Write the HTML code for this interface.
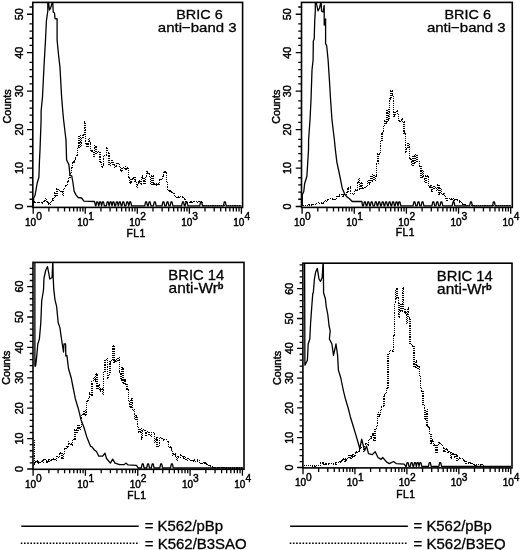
<!DOCTYPE html>
<html><head><meta charset="utf-8"><style>
html,body{margin:0;padding:0;background:#fff;}
svg{display:block;filter:grayscale(1) blur(0.3px);}
text{font-family:"Liberation Sans", sans-serif;fill:#000;stroke:#000;stroke-width:0.3px;}
.s{stroke-width:0.45px;}
</style></head><body>
<svg width="520" height="550" viewBox="0 0 520 550">
<rect x="32.80" y="2.40" width="209.80" height="205.00" fill="none" stroke="#000" stroke-width="1.6"/>
<path d="M33.20 207.40V213.80 M48.87 207.40V211.40 M58.03 207.40V211.40 M64.54 207.40V211.40 M69.58 207.40V211.40 M73.70 207.40V211.40 M77.19 207.40V211.40 M80.21 207.40V211.40 M82.87 207.40V211.40 M85.25 207.40V213.80 M100.92 207.40V211.40 M110.08 207.40V211.40 M116.59 207.40V211.40 M121.63 207.40V211.40 M125.75 207.40V211.40 M129.24 207.40V211.40 M132.26 207.40V211.40 M134.92 207.40V211.40 M137.30 207.40V213.80 M152.97 207.40V211.40 M162.13 207.40V211.40 M168.64 207.40V211.40 M173.68 207.40V211.40 M177.80 207.40V211.40 M181.29 207.40V211.40 M184.31 207.40V211.40 M186.97 207.40V211.40 M189.35 207.40V213.80 M205.02 207.40V211.40 M214.18 207.40V211.40 M220.69 207.40V211.40 M225.73 207.40V211.40 M229.85 207.40V211.40 M233.34 207.40V211.40 M236.36 207.40V211.40 M239.02 207.40V211.40 M241.40 207.40V213.80 M32.80 206.50H27.00 M32.80 177.75H29.50 M32.80 184.95H29.50 M32.80 192.05H29.50 M32.80 199.25H29.50 M32.80 168.05H27.00 M32.80 139.30H29.50 M32.80 146.50H29.50 M32.80 153.60H29.50 M32.80 160.80H29.50 M32.80 129.60H27.00 M32.80 100.85H29.50 M32.80 108.05H29.50 M32.80 115.15H29.50 M32.80 122.35H29.50 M32.80 91.15H27.00 M32.80 62.40H29.50 M32.80 69.60H29.50 M32.80 76.70H29.50 M32.80 83.90H29.50 M32.80 52.70H27.00 M32.80 23.95H29.50 M32.80 31.15H29.50 M32.80 38.25H29.50 M32.80 45.45H29.50 M32.80 14.25H27.00 M32.80 7.00H29.50" stroke="#000" stroke-width="1.3" fill="none"/>
<text x="36.20" y="225.60" text-anchor="end" font-size="10" class="s">10</text>
<text x="36.20" y="220.00" font-size="10.2" class="s">0</text>
<text x="88.25" y="225.60" text-anchor="end" font-size="10" class="s">10</text>
<text x="88.25" y="220.00" font-size="10.2" class="s">1</text>
<text x="140.30" y="225.60" text-anchor="end" font-size="10" class="s">10</text>
<text x="140.30" y="220.00" font-size="10.2" class="s">2</text>
<text x="192.35" y="225.60" text-anchor="end" font-size="10" class="s">10</text>
<text x="192.35" y="220.00" font-size="10.2" class="s">3</text>
<text x="244.40" y="225.60" text-anchor="end" font-size="10" class="s">10</text>
<text x="244.40" y="220.00" font-size="10.2" class="s">4</text>
<text transform="translate(22.60,206.50) rotate(-90)" text-anchor="middle" font-size="10.8" class="s">0</text>
<text transform="translate(22.60,168.05) rotate(-90)" text-anchor="middle" font-size="10.8" class="s">10</text>
<text transform="translate(22.60,129.60) rotate(-90)" text-anchor="middle" font-size="10.8" class="s">20</text>
<text transform="translate(22.60,91.15) rotate(-90)" text-anchor="middle" font-size="10.8" class="s">30</text>
<text transform="translate(22.60,52.70) rotate(-90)" text-anchor="middle" font-size="10.8" class="s">40</text>
<text transform="translate(22.60,14.25) rotate(-90)" text-anchor="middle" font-size="10.8" class="s">50</text>
<rect x="301.50" y="2.40" width="210.80" height="205.00" fill="none" stroke="#000" stroke-width="1.6"/>
<path d="M302.10 207.40V213.80 M317.80 207.40V211.40 M326.98 207.40V211.40 M333.50 207.40V211.40 M338.55 207.40V211.40 M342.68 207.40V211.40 M346.17 207.40V211.40 M349.20 207.40V211.40 M351.86 207.40V211.40 M354.25 207.40V213.80 M369.95 207.40V211.40 M379.13 207.40V211.40 M385.65 207.40V211.40 M390.70 207.40V211.40 M394.83 207.40V211.40 M398.32 207.40V211.40 M401.35 207.40V211.40 M404.01 207.40V211.40 M406.40 207.40V213.80 M422.10 207.40V211.40 M431.28 207.40V211.40 M437.80 207.40V211.40 M442.85 207.40V211.40 M446.98 207.40V211.40 M450.47 207.40V211.40 M453.50 207.40V211.40 M456.16 207.40V211.40 M458.55 207.40V213.80 M474.25 207.40V211.40 M483.43 207.40V211.40 M489.95 207.40V211.40 M495.00 207.40V211.40 M499.13 207.40V211.40 M502.62 207.40V211.40 M505.65 207.40V211.40 M508.31 207.40V211.40 M510.70 207.40V213.80 M301.50 206.50H295.70 M301.50 177.75H298.20 M301.50 184.95H298.20 M301.50 192.05H298.20 M301.50 199.25H298.20 M301.50 168.05H295.70 M301.50 139.30H298.20 M301.50 146.50H298.20 M301.50 153.60H298.20 M301.50 160.80H298.20 M301.50 129.60H295.70 M301.50 100.85H298.20 M301.50 108.05H298.20 M301.50 115.15H298.20 M301.50 122.35H298.20 M301.50 91.15H295.70 M301.50 62.40H298.20 M301.50 69.60H298.20 M301.50 76.70H298.20 M301.50 83.90H298.20 M301.50 52.70H295.70 M301.50 23.95H298.20 M301.50 31.15H298.20 M301.50 38.25H298.20 M301.50 45.45H298.20 M301.50 14.25H295.70 M301.50 7.00H298.20" stroke="#000" stroke-width="1.3" fill="none"/>
<text x="305.10" y="225.60" text-anchor="end" font-size="10" class="s">10</text>
<text x="305.10" y="220.00" font-size="10.2" class="s">0</text>
<text x="357.25" y="225.60" text-anchor="end" font-size="10" class="s">10</text>
<text x="357.25" y="220.00" font-size="10.2" class="s">1</text>
<text x="409.40" y="225.60" text-anchor="end" font-size="10" class="s">10</text>
<text x="409.40" y="220.00" font-size="10.2" class="s">2</text>
<text x="461.55" y="225.60" text-anchor="end" font-size="10" class="s">10</text>
<text x="461.55" y="220.00" font-size="10.2" class="s">3</text>
<text x="513.70" y="225.60" text-anchor="end" font-size="10" class="s">10</text>
<text x="513.70" y="220.00" font-size="10.2" class="s">4</text>
<text transform="translate(291.30,206.50) rotate(-90)" text-anchor="middle" font-size="10.8" class="s">0</text>
<text transform="translate(291.30,168.05) rotate(-90)" text-anchor="middle" font-size="10.8" class="s">10</text>
<text transform="translate(291.30,129.60) rotate(-90)" text-anchor="middle" font-size="10.8" class="s">20</text>
<text transform="translate(291.30,91.15) rotate(-90)" text-anchor="middle" font-size="10.8" class="s">30</text>
<text transform="translate(291.30,52.70) rotate(-90)" text-anchor="middle" font-size="10.8" class="s">40</text>
<text transform="translate(291.30,14.25) rotate(-90)" text-anchor="middle" font-size="10.8" class="s">50</text>
<rect x="33.00" y="262.40" width="211.00" height="206.90" fill="none" stroke="#000" stroke-width="1.6"/>
<path d="M33.10 469.30V475.70 M48.85 469.30V473.30 M58.07 469.30V473.30 M64.61 469.30V473.30 M69.68 469.30V473.30 M73.82 469.30V473.30 M77.32 469.30V473.30 M80.36 469.30V473.30 M83.04 469.30V473.30 M85.43 469.30V475.70 M101.18 469.30V473.30 M110.40 469.30V473.30 M116.94 469.30V473.30 M122.01 469.30V473.30 M126.15 469.30V473.30 M129.65 469.30V473.30 M132.69 469.30V473.30 M135.37 469.30V473.30 M137.76 469.30V475.70 M153.51 469.30V473.30 M162.73 469.30V473.30 M169.27 469.30V473.30 M174.34 469.30V473.30 M178.48 469.30V473.30 M181.98 469.30V473.30 M185.02 469.30V473.30 M187.70 469.30V473.30 M190.09 469.30V475.70 M205.84 469.30V473.30 M215.06 469.30V473.30 M221.60 469.30V473.30 M226.67 469.30V473.30 M230.81 469.30V473.30 M234.31 469.30V473.30 M237.35 469.30V473.30 M240.03 469.30V473.30 M242.42 469.30V475.70 M33.00 469.00H27.20 M33.00 444.68H29.70 M33.00 450.76H29.70 M33.00 456.84H29.70 M33.00 462.92H29.70 M33.00 438.60H27.20 M33.00 414.28H29.70 M33.00 420.36H29.70 M33.00 426.44H29.70 M33.00 432.52H29.70 M33.00 408.20H27.20 M33.00 383.88H29.70 M33.00 389.96H29.70 M33.00 396.04H29.70 M33.00 402.12H29.70 M33.00 377.80H27.20 M33.00 353.48H29.70 M33.00 359.56H29.70 M33.00 365.64H29.70 M33.00 371.72H29.70 M33.00 347.40H27.20 M33.00 323.08H29.70 M33.00 329.16H29.70 M33.00 335.24H29.70 M33.00 341.32H29.70 M33.00 317.00H27.20 M33.00 292.68H29.70 M33.00 298.76H29.70 M33.00 304.84H29.70 M33.00 310.92H29.70 M33.00 286.60H27.20 M33.00 268.36H29.70 M33.00 274.44H29.70 M33.00 280.52H29.70" stroke="#000" stroke-width="1.3" fill="none"/>
<text x="36.10" y="487.50" text-anchor="end" font-size="10" class="s">10</text>
<text x="36.10" y="481.90" font-size="10.2" class="s">0</text>
<text x="88.43" y="487.50" text-anchor="end" font-size="10" class="s">10</text>
<text x="88.43" y="481.90" font-size="10.2" class="s">1</text>
<text x="140.76" y="487.50" text-anchor="end" font-size="10" class="s">10</text>
<text x="140.76" y="481.90" font-size="10.2" class="s">2</text>
<text x="193.09" y="487.50" text-anchor="end" font-size="10" class="s">10</text>
<text x="193.09" y="481.90" font-size="10.2" class="s">3</text>
<text x="245.42" y="487.50" text-anchor="end" font-size="10" class="s">10</text>
<text x="245.42" y="481.90" font-size="10.2" class="s">4</text>
<text transform="translate(22.80,469.00) rotate(-90)" text-anchor="middle" font-size="10.8" class="s">0</text>
<text transform="translate(22.80,438.60) rotate(-90)" text-anchor="middle" font-size="10.8" class="s">10</text>
<text transform="translate(22.80,408.20) rotate(-90)" text-anchor="middle" font-size="10.8" class="s">20</text>
<text transform="translate(22.80,377.80) rotate(-90)" text-anchor="middle" font-size="10.8" class="s">30</text>
<text transform="translate(22.80,347.40) rotate(-90)" text-anchor="middle" font-size="10.8" class="s">40</text>
<text transform="translate(22.80,317.00) rotate(-90)" text-anchor="middle" font-size="10.8" class="s">50</text>
<text transform="translate(22.80,286.60) rotate(-90)" text-anchor="middle" font-size="10.8" class="s">60</text>
<rect x="302.90" y="263.20" width="209.10" height="204.70" fill="none" stroke="#000" stroke-width="1.6"/>
<path d="M303.00 467.90V474.30 M318.64 467.90V471.90 M327.79 467.90V471.90 M334.28 467.90V471.90 M339.31 467.90V471.90 M343.42 467.90V471.90 M346.90 467.90V471.90 M349.92 467.90V471.90 M352.57 467.90V471.90 M354.95 467.90V474.30 M370.59 467.90V471.90 M379.74 467.90V471.90 M386.23 467.90V471.90 M391.26 467.90V471.90 M395.37 467.90V471.90 M398.85 467.90V471.90 M401.87 467.90V471.90 M404.52 467.90V471.90 M406.90 467.90V474.30 M422.54 467.90V471.90 M431.69 467.90V471.90 M438.18 467.90V471.90 M443.21 467.90V471.90 M447.32 467.90V471.90 M450.80 467.90V471.90 M453.82 467.90V471.90 M456.47 467.90V471.90 M458.85 467.90V474.30 M474.49 467.90V471.90 M483.64 467.90V471.90 M490.13 467.90V471.90 M495.16 467.90V471.90 M499.27 467.90V471.90 M502.75 467.90V471.90 M505.77 467.90V471.90 M508.42 467.90V471.90 M510.80 467.90V474.30 M302.90 467.50H297.10 M302.90 443.66H299.60 M302.90 449.62H299.60 M302.90 455.58H299.60 M302.90 461.54H299.60 M302.90 437.70H297.10 M302.90 413.86H299.60 M302.90 419.82H299.60 M302.90 425.78H299.60 M302.90 431.74H299.60 M302.90 407.90H297.10 M302.90 384.06H299.60 M302.90 390.02H299.60 M302.90 395.98H299.60 M302.90 401.94H299.60 M302.90 378.10H297.10 M302.90 354.26H299.60 M302.90 360.22H299.60 M302.90 366.18H299.60 M302.90 372.14H299.60 M302.90 348.30H297.10 M302.90 324.46H299.60 M302.90 330.42H299.60 M302.90 336.38H299.60 M302.90 342.34H299.60 M302.90 318.50H297.10 M302.90 294.66H299.60 M302.90 300.62H299.60 M302.90 306.58H299.60 M302.90 312.54H299.60 M302.90 288.70H297.10 M302.90 264.86H299.60 M302.90 270.82H299.60 M302.90 276.78H299.60 M302.90 282.74H299.60" stroke="#000" stroke-width="1.3" fill="none"/>
<text x="306.00" y="486.10" text-anchor="end" font-size="10" class="s">10</text>
<text x="306.00" y="480.50" font-size="10.2" class="s">0</text>
<text x="357.95" y="486.10" text-anchor="end" font-size="10" class="s">10</text>
<text x="357.95" y="480.50" font-size="10.2" class="s">1</text>
<text x="409.90" y="486.10" text-anchor="end" font-size="10" class="s">10</text>
<text x="409.90" y="480.50" font-size="10.2" class="s">2</text>
<text x="461.85" y="486.10" text-anchor="end" font-size="10" class="s">10</text>
<text x="461.85" y="480.50" font-size="10.2" class="s">3</text>
<text x="513.80" y="486.10" text-anchor="end" font-size="10" class="s">10</text>
<text x="513.80" y="480.50" font-size="10.2" class="s">4</text>
<text transform="translate(292.70,467.50) rotate(-90)" text-anchor="middle" font-size="10.8" class="s">0</text>
<text transform="translate(292.70,437.70) rotate(-90)" text-anchor="middle" font-size="10.8" class="s">10</text>
<text transform="translate(292.70,407.90) rotate(-90)" text-anchor="middle" font-size="10.8" class="s">20</text>
<text transform="translate(292.70,378.10) rotate(-90)" text-anchor="middle" font-size="10.8" class="s">30</text>
<text transform="translate(292.70,348.30) rotate(-90)" text-anchor="middle" font-size="10.8" class="s">40</text>
<text transform="translate(292.70,318.50) rotate(-90)" text-anchor="middle" font-size="10.8" class="s">50</text>
<text transform="translate(292.70,288.70) rotate(-90)" text-anchor="middle" font-size="10.8" class="s">60</text>
<path d="M33.20 206.50 L33.70 198.00 L34.90 195.80 L36.00 190.00 L37.20 183.00 L38.90 177.30 L39.50 160.00 L40.00 150.00 L41.10 120.00 L41.10 111.30 L42.50 96.70 L44.00 66.20 L45.50 40.00 L46.40 21.00 L47.80 11.00 L47.80 2.80 L48.60 2.80 L49.50 10.00 L50.60 8.00 L52.20 2.80 L52.80 2.80 L53.20 12.00 L54.50 13.00 L55.00 18.50 L57.10 19.00 L57.10 40.00 L58.50 54.50 L60.00 67.60 L61.50 95.30 L62.90 112.70 L63.60 120.00 L66.00 140.00 L66.60 160.00 L68.90 164.60 L70.00 175.00 L71.80 176.10 L73.00 183.00 L74.10 191.10 L75.80 194.60 L78.10 197.50 L81.60 198.00 L83.90 201.20 L94.50 201.50 L95.50 205.60 L95.60 205.80 L95.90 205.80 L96.80 201.80 L97.80 201.80 L98.70 205.80 L98.80 205.80 L99.70 201.80 L100.70 201.80 L101.60 205.80 L101.60 205.80 L102.50 201.80 L103.50 201.80 L104.40 205.80 L106.30 205.80 L107.20 201.80 L108.20 201.80 L109.10 205.80 L109.20 205.80 L110.10 201.80 L111.10 201.80 L112.00 205.80 L112.00 205.80 L112.90 201.80 L113.90 201.80 L114.80 205.80 L115.50 205.80 L116.40 201.80 L117.40 201.80 L118.30 205.80 L118.40 205.80 L119.30 201.80 L120.30 201.80 L121.20 205.80 L121.90 205.80 L122.80 201.80 L123.80 201.80 L124.70 205.80 L125.90 205.80 L126.80 201.80 L127.80 201.80 L128.70 205.80 L128.80 205.80 L129.70 201.80 L130.70 201.80 L131.60 205.80 L144.70 205.80 L145.60 201.80 L146.60 201.80 L147.50 205.80 L148.20 205.80 L149.10 201.80 L150.10 201.80 L151.00 205.80 L153.40 205.80 L154.30 201.80 L155.30 201.80 L156.20 205.80 L162.00 205.80 L162.90 201.80 L163.90 201.80 L164.80 205.80 L166.10 205.80 L167.00 201.80 L168.00 201.80 L168.90 205.80 L170.10 205.80 L171.00 201.80 L172.00 201.80 L172.90 205.80 L181.60 205.80 L182.50 201.80 L183.50 201.80 L184.40 205.80 L185.10 205.80 L186.00 201.80 L187.00 201.80 L187.90 205.80 L199.70 205.80 L200.60 201.80 L201.60 201.80 L202.50 205.80 L223.40 205.80 L224.30 201.80 L225.30 201.80 L226.20 205.80 L241.50 205.80" fill="none" stroke="#000" stroke-width="1.3" stroke-linejoin="round"/>
<path d="M33.60 202.10V202.14H34.90V202.82H36.20V202.71H37.50V202.21H38.80V202.41H40.10V202.36H41.40V202.90H42.70V202.69H44.00V200.19H45.30V198.60H46.60V201.39H47.90V203.86H49.20V204.57H50.50V202.32H51.80V200.12H53.10V198.22H54.40V193.06H55.70V196.28H57.00V188.80H58.30V189.23H59.60V190.23H60.90V191.99H62.20V195.46H63.50V189.17H64.80V186.78H66.10V185.20H67.40V181.53H68.70V177.34H70.00V172.71H71.30V168.14H72.60V161.98H73.90V160.32H75.20V157.22H76.50V155.02H77.80V147.12H79.10V135.50H80.40V146.33H81.70V138.63H83.00V134.19H84.30V122.00H85.60V144.10H86.90V146.75H88.20V138.75H89.50V142.26H90.80V150.23H92.10V151.13H93.40V156.18H94.70V145.96H96.00V153.69H97.30V151.80H98.60V152.71H99.90V162.70H101.20V166.96H102.50V165.06H103.80V156.67H105.10V155.56H106.40V148.00H107.70V152.32H109.00V165.70H110.30V163.27H111.60V160.81H112.90V165.12H114.20V167.61H115.50V167.12H116.80V163.30H118.10V164.93H119.40V166.69H120.70V171.78H122.00V168.50H123.30V167.29H124.60V168.90H125.90V166.54H127.20V168.75H128.50V177.43H129.80V183.79H131.10V179.38H132.40V178.02H133.70V177.19H135.00V181.05H136.30V187.54H137.60V183.78H138.90V180.26H140.20V184.29H141.50V176.02H142.80V178.00H144.10V183.80H145.40V177.30H146.70V172.00H148.00V173.73H149.30V177.70H150.60V184.81H151.90V175.53H153.20V183.85H154.50V184.76H155.80V185.78H157.10V183.59H158.40V184.59H159.70V179.71H161.00V179.21H162.30V176.62H163.60V172.78H164.90V172.00H166.20V182.76H167.50V189.18H168.80V191.11H170.10V191.77H171.40V192.21H172.70V193.48H174.00V195.36H175.30V196.65H176.60V197.24H177.90V196.97H179.20V196.39H180.50V196.58H181.80V196.33H183.10V197.47H184.40V199.14H185.70V201.41H187.00V202.45H188.30V202.48H189.60V201.82H190.90V202.51H192.20V202.27H193.50V201.72H194.80V201.70H196.10V201.70H197.40V202.39H198.70V201.82H200.00V201.73H201.30V202.69H202.60V204.78H203.90V205.50H205.20V205.50H206.50V205.50H207.80V205.50H209.10V205.50H210.40V205.50H211.70V205.50H213.00V205.50H214.30V205.50H215.60V205.50H216.90V205.50H218.20V205.50H219.50V205.50H220.80V205.50H222.10V205.50H223.40V205.50H224.70V205.50H226.00V205.50H227.30V205.50H228.60V205.50H229.90V205.50H231.20V205.50H232.50V205.50H233.80V205.50H235.10V205.50H236.40V205.50H237.70V205.50H239.00V205.50H240.30V205.50H241.00" fill="none" stroke="#000" stroke-width="1.3" stroke-dasharray="1.2 1" shape-rendering="crispEdges"/>
<path d="M302.30 205.50 L302.30 194.60 L303.80 191.50 L304.60 183.80 L306.90 176.20 L308.50 150.00 L308.60 140.00 L310.00 120.00 L311.00 100.00 L312.00 70.00 L313.10 60.00 L313.30 41.00 L314.20 39.30 L314.70 21.30 L315.30 10.90 L315.30 2.80 L316.30 2.80 L318.00 10.90 L319.50 8.00 L320.70 2.80 L321.20 2.80 L321.50 11.00 L323.00 12.00 L324.20 5.50 L324.20 25.00 L325.60 19.00 L325.60 43.60 L326.70 45.80 L328.10 60.00 L329.40 80.00 L330.60 100.00 L332.00 120.00 L334.40 140.00 L335.40 150.00 L336.90 162.30 L339.20 173.00 L340.80 180.80 L342.30 188.50 L344.60 193.80 L346.90 196.90 L349.20 198.50 L352.30 201.50 L361.90 201.50 L362.50 205.60 L362.60 205.80 L363.40 205.80 L364.30 201.80 L365.30 201.80 L366.20 205.80 L366.90 205.80 L367.80 201.80 L368.80 201.80 L369.70 205.80 L370.30 205.80 L371.20 201.80 L372.20 201.80 L373.10 205.80 L374.40 205.80 L375.30 201.80 L376.30 201.80 L377.20 205.80 L377.80 205.80 L378.70 201.80 L379.70 201.80 L380.60 205.80 L381.30 205.80 L382.20 201.80 L383.20 201.80 L384.10 205.80 L384.70 205.80 L385.60 201.80 L386.60 201.80 L387.50 205.80 L388.20 205.80 L389.10 201.80 L390.10 201.80 L391.00 205.80 L391.70 205.80 L392.60 201.80 L393.60 201.80 L394.50 205.80 L395.10 205.80 L396.00 201.80 L397.00 201.80 L397.90 205.80 L398.00 205.80 L398.90 201.80 L399.90 201.80 L400.80 205.80 L413.00 205.80 L413.90 201.80 L414.90 201.80 L415.80 205.80 L417.10 205.80 L418.00 201.80 L419.00 201.80 L419.90 205.80 L421.10 205.80 L422.00 201.80 L423.00 201.80 L423.90 205.80 L431.90 205.80 L432.80 201.80 L433.80 201.80 L434.70 205.80 L435.90 205.80 L436.80 201.80 L437.80 201.80 L438.70 205.80 L440.00 205.80 L440.90 201.80 L441.90 201.80 L442.80 205.80 L452.10 205.80 L453.00 201.80 L454.00 201.80 L454.90 205.80 L469.60 205.80 L470.50 201.80 L471.50 201.80 L472.40 205.80 L492.50 205.80 L493.40 201.80 L494.40 201.80 L495.30 205.80 L511.00 205.80" fill="none" stroke="#000" stroke-width="1.3" stroke-linejoin="round"/>
<path d="M302.60 205.60V205.50H303.90V205.50H305.20V205.30H306.50V205.20H307.80V205.22H309.10V205.11H310.40V205.00H311.70V204.82H313.00V204.80H314.30V204.53H315.60V203.28H316.90V203.04H318.20V203.38H319.50V203.57H320.80V203.56H322.10V203.04H323.40V202.55H324.70V201.41H326.00V200.76H327.30V200.01H328.60V199.25H329.90V198.84H331.20V199.18H332.50V198.91H333.80V199.30H335.10V199.82H336.40V196.75H337.70V196.53H339.00V195.02H340.30V194.82H341.60V196.31H342.90V195.05H344.20V194.09H345.50V196.37H346.80V192.24H348.10V187.77H349.40V186.90H350.70V193.34H352.00V193.21H353.30V194.56H354.60V191.33H355.90V190.11H357.20V182.49H358.50V178.50H359.80V189.07H361.10V182.17H362.40V188.62H363.70V188.38H365.00V186.40H366.30V186.33H367.60V180.29H368.90V184.06H370.20V176.60H371.50V181.04H372.80V174.20H374.10V180.40H375.40V176.53H376.70V163.49H378.00V153.97H379.30V153.24H380.60V140.83H381.90V132.52H383.20V125.35H384.50V120.76H385.80V123.03H387.10V109.67H388.40V119.93H389.70V99.00H391.00V90.80H392.30V95.13H393.60V115.92H394.90V112.36H396.20V110.80H397.50V114.34H398.80V120.27H400.10V121.30H401.40V119.12H402.70V121.71H404.00V132.85H405.30V151.86H406.60V147.84H407.90V143.77H409.20V157.92H410.50V159.02H411.80V165.20H413.10V155.91H414.40V163.28H415.70V154.15H417.00V161.18H418.30V161.26H419.60V166.32H420.90V177.77H422.20V170.53H423.50V176.52H424.80V182.37H426.10V175.63H427.40V176.19H428.70V187.12H430.00V186.05H431.30V191.41H432.60V186.66H433.90V188.74H435.20V187.71H436.50V190.62H437.80V185.00H439.10V194.08H440.40V188.42H441.70V194.76H443.00V193.65H444.30V196.65H445.60V200.16H446.90V198.62H448.20V198.65H449.50V199.78H450.80V199.00H452.10V198.72H453.40V201.01H454.70V199.23H456.00V199.34H457.30V199.88H458.60V200.57H459.90V202.11H461.20V203.44H462.50V204.25H463.80V204.57H465.10V205.00H466.40V205.41H467.70V205.50H469.00V205.50H470.30V205.50H471.60V205.50H472.90V205.50H474.20V205.50H475.50V205.50H476.80V205.50H478.10V205.50H479.40V205.50H480.70V205.50H482.00V205.50H483.30V205.50H484.60V205.50H485.90V205.50H487.20V205.50H488.50V205.50H489.80V205.50H491.10V205.50H492.40V205.50H493.70V205.50H495.00V205.50H496.30V205.50H497.60V205.50H498.90V205.50H500.20V205.50H501.50V205.50H502.80V205.50H504.10V205.50H505.40V205.50H506.70V205.50H508.00V205.50H509.30V205.50H510.60V205.50H511.00" fill="none" stroke="#000" stroke-width="1.3" stroke-dasharray="1.2 1" shape-rendering="crispEdges"/>
<path d="M34.90 263.00 L34.90 366.00 L35.60 366.00 L36.50 358.70 L37.80 344.00 L39.40 339.00 L40.80 322.70 L41.70 301.00 L43.50 290.00 L44.00 278.00 L45.80 270.00 L47.50 266.50 L49.80 279.00 L52.10 277.50 L52.70 263.00 L52.90 263.00 L53.20 278.00 L53.80 289.60 L55.00 299.80 L56.60 306.30 L58.20 322.70 L59.90 327.60 L61.50 339.00 L63.50 352.00 L64.00 344.00 L65.60 344.00 L65.80 356.00 L66.90 355.40 L68.50 368.50 L71.30 378.30 L73.40 389.00 L75.30 398.70 L78.20 408.20 L81.00 419.70 L83.90 427.30 L86.80 436.90 L90.60 446.40 L92.00 446.90 L94.40 450.00 L96.50 451.50 L98.80 456.20 L102.70 456.20 L105.00 453.10 L106.50 458.50 L110.40 463.10 L112.70 459.20 L115.00 463.10 L119.60 464.60 L124.20 464.60 L125.80 463.10 L128.10 464.90 L136.50 465.40 L138.10 467.80 L138.20 468.00 L141.30 468.00 L142.20 463.80 L143.20 463.80 L144.10 468.00 L146.70 468.00 L147.60 463.80 L148.60 463.80 L149.50 468.00 L151.30 468.00 L152.20 463.80 L153.20 463.80 L154.10 468.00 L159.80 468.00 L160.70 463.80 L161.70 463.80 L162.60 468.00 L170.50 468.00 L171.40 463.80 L172.40 463.80 L173.30 468.00 L243.00 468.00" fill="none" stroke="#000" stroke-width="1.3" stroke-linejoin="round"/>
<path d="M33.40 465.70V463.89H34.70V462.64H36.00V460.30H37.30V461.92H38.60V463.34H39.90V462.72H41.20V460.97H42.50V462.39H43.80V460.13H45.10V459.75H46.40V462.64H47.70V459.99H49.00V461.57H50.30V459.76H51.60V460.35H52.90V458.32H54.20V459.27H55.50V460.18H56.80V456.83H58.10V457.70H59.40V452.90H60.70V453.73H62.00V458.80H63.30V454.50H64.60V448.95H65.90V446.71H67.20V447.76H68.50V442.07H69.80V443.77H71.10V444.93H72.40V439.67H73.70V439.84H75.00V429.66H76.30V432.78H77.60V425.34H78.90V430.46H80.20V427.36H81.50V415.75H82.80V413.92H84.10V410.59H85.40V414.92H86.70V401.35H88.00V398.84H89.30V392.94H90.60V395.01H91.90V381.57H93.20V377.59H94.50V380.87H95.80V373.30H97.10V388.66H98.40V385.03H99.70V390.95H101.00V388.93H102.30V394.59H103.60V372.46H104.90V360.67H106.20V358.50H107.50V378.46H108.80V374.18H110.10V361.91H111.40V359.41H112.70V345.20H114.00V362.03H115.30V359.62H116.60V361.50H117.90V357.70H119.20V372.56H120.50V380.01H121.80V367.73H123.10V383.40H124.40V380.02H125.70V384.21H127.00V390.02H128.30V401.40H129.60V406.99H130.90V398.99H132.20V410.63H133.50V409.68H134.80V419.63H136.10V416.09H137.40V426.27H138.70V431.97H140.00V428.32H141.30V438.91H142.60V430.46H143.90V429.98H145.20V435.58H146.50V431.74H147.80V432.49H149.10V434.24H150.40V436.53H151.70V432.25H153.00V432.26H154.30V442.53H155.60V438.06H156.90V446.80H158.20V446.28H159.50V437.78H160.80V437.84H162.10V438.48H163.40V439.93H164.70V439.34H166.00V439.66H167.30V441.96H168.60V447.74H169.90V446.51H171.20V450.07H172.50V455.40H173.80V453.87H175.10V455.88H176.40V460.80H177.70V457.12H179.00V457.30H180.30V455.00H181.60V456.47H182.90V457.85H184.20V456.46H185.50V459.51H186.80V460.21H188.10V458.62H189.40V460.63H190.70V460.22H192.00V461.10H193.30V459.86H194.60V461.22H195.90V461.59H197.20V460.04H198.50V460.55H199.80V462.39H201.10V463.72H202.40V462.22H203.70V463.04H205.00V463.85H206.30V464.02H207.60V464.67H208.90V465.36H210.20V466.13H211.50V466.96H212.80V467.61H214.10V467.74H215.40V467.81H216.70V467.70H218.00V467.77H219.30V467.80H220.60V467.73H221.90V467.72H223.20V467.82H224.50V467.72H225.80V468.00H227.10V468.00H228.40V468.00H229.70V468.00H231.00V468.00H232.30V468.00H233.60V468.00H234.90V468.00H236.20V468.00H237.50V468.00H238.80V468.00H240.10V468.00H241.40V468.00H242.70V468.00H243.00" fill="none" stroke="#000" stroke-width="1.3" stroke-dasharray="1.2 1" shape-rendering="crispEdges"/>
<path d="M34.6 440V464" fill="none" stroke="#000" stroke-width="1.3" stroke-dasharray="1.2 1" shape-rendering="crispEdges"/>
<path d="M304.60 263.80 L304.90 365.20 L307.40 360.30 L308.20 344.00 L309.80 339.00 L310.60 322.70 L311.80 306.30 L312.80 293.30 L313.30 293.00 L314.40 279.20 L315.60 272.30 L317.30 268.30 L319.00 279.00 L320.50 281.50 L322.20 277.50 L323.00 263.80 L323.30 263.80 L323.60 293.00 L325.40 298.80 L326.20 306.30 L327.80 314.50 L329.10 326.00 L330.20 330.90 L329.40 339.00 L331.90 344.00 L333.50 355.40 L336.00 344.00 L337.60 355.40 L338.40 370.10 L340.90 378.30 L341.50 381.50 L343.50 391.20 L345.40 398.80 L348.30 408.50 L350.20 416.20 L353.10 425.80 L356.00 435.40 L358.80 445.00 L359.80 448.80 L361.70 439.20 L364.60 450.80 L366.50 446.00 L368.50 453.70 L372.30 454.60 L375.20 451.70 L378.00 457.50 L381.00 459.40 L382.70 457.50 L386.70 462.20 L389.40 463.60 L393.50 461.50 L396.20 463.60 L404.20 464.20 L405.60 466.20 L405.70 466.40 L406.20 466.40 L407.10 462.60 L408.10 462.60 L409.00 466.40 L410.20 466.40 L411.10 462.60 L412.10 462.60 L413.00 466.40 L413.60 466.40 L414.50 462.60 L415.50 462.60 L416.40 466.40 L416.30 466.40 L417.20 462.60 L418.20 462.60 L419.10 466.40 L419.00 466.40 L419.90 462.60 L420.90 462.60 L421.80 466.40 L428.40 466.40 L429.30 462.60 L430.30 462.60 L431.20 466.40 L438.80 466.40 L439.70 462.60 L440.70 462.60 L441.60 466.40 L511.00 466.40" fill="none" stroke="#000" stroke-width="1.3" stroke-linejoin="round"/>
<path d="M303.50 465.70V465.73H304.80V465.71H306.10V465.76H307.40V465.71H308.70V465.70H310.00V465.76H311.30V465.94H312.60V465.90H313.90V465.88H315.20V465.73H316.50V465.80H317.80V465.74H319.10V465.72H320.40V463.03H321.70V463.10H323.00V464.00H324.30V463.86H325.60V463.85H326.90V463.86H328.20V463.22H329.50V463.33H330.80V463.69H332.10V463.84H333.40V464.04H334.70V464.04H336.00V462.56H337.30V462.57H338.60V462.18H339.90V461.27H341.20V460.07H342.50V460.11H343.80V458.71H345.10V460.91H346.40V459.99H347.70V457.53H349.00V455.29H350.30V458.58H351.60V454.94H352.90V457.01H354.20V456.11H355.50V452.75H356.80V451.75H358.10V452.45H359.40V449.89H360.70V447.23H362.00V447.59H363.30V451.74H364.60V444.75H365.90V443.46H367.20V445.25H368.50V439.62H369.80V439.37H371.10V436.92H372.40V434.02H373.70V440.51H375.00V428.20H376.30V426.21H377.60V412.68H378.90V415.93H380.20V410.45H381.50V406.54H382.80V406.71H384.10V395.14H385.40V392.72H386.70V388.77H388.00V354.64H389.30V351.76H390.60V350.69H391.90V350.98H393.20V334.96H394.50V302.83H395.80V289.10H397.10V298.06H398.40V316.88H399.70V303.38H401.00V311.16H402.30V287.30H403.60V308.82H404.90V313.01H406.20V323.77H407.50V308.10H408.80V317.87H410.10V343.29H411.40V345.94H412.70V346.74H414.00V366.94H415.30V361.08H416.60V368.29H417.90V366.14H419.20V375.54H420.50V387.28H421.80V391.23H423.10V405.73H424.40V419.44H425.70V409.52H427.00V426.26H428.30V427.45H429.60V434.69H430.90V442.97H432.20V439.99H433.50V445.74H434.80V444.80H436.10V452.62H437.40V445.74H438.70V442.80H440.00V443.58H441.30V445.37H442.60V447.17H443.90V451.66H445.20V448.67H446.50V449.02H447.80V451.98H449.10V451.47H450.40V458.77H451.70V452.83H453.00V455.01H454.30V457.02H455.60V454.52H456.90V460.23H458.20V457.89H459.50V457.67H460.80V458.78H462.10V458.80H463.40V460.25H464.70V461.16H466.00V463.44H467.30V463.48H468.60V463.14H469.90V462.97H471.20V463.30H472.50V464.47H473.80V464.95H475.10V464.90H476.40V465.21H477.70V464.76H479.00V464.68H480.30V465.12H481.60V464.83H482.90V465.72H484.20V466.34H485.50V466.43H486.80V466.38H488.10V466.40H489.40V466.40H490.70V466.35H492.00V466.30H493.30V466.31H494.60V466.42H495.90V466.43H497.20V466.43H498.50V466.33H499.80V466.38H501.10V466.41H502.40V466.38H503.70V466.41H505.00V466.35H506.30V466.38H507.60V466.38H508.90V466.32H510.20V466.43H511.00" fill="none" stroke="#000" stroke-width="1.3" stroke-dasharray="1.2 1" shape-rendering="crispEdges"/>
<text x="176.20" y="18.90" font-size="13.5" textLength="46.5" lengthAdjust="spacingAndGlyphs">BRIC 6</text>
<text x="157.80" y="32.20" font-size="13.5" textLength="78.8" lengthAdjust="spacingAndGlyphs">anti−band 3</text>
<text x="444.50" y="18.90" font-size="13.5" textLength="46.5" lengthAdjust="spacingAndGlyphs">BRIC 6</text>
<text x="426.90" y="32.20" font-size="13.5" textLength="78.8" lengthAdjust="spacingAndGlyphs">anti−band 3</text>
<text x="168.30" y="279.50" font-size="14.5" textLength="56" lengthAdjust="spacingAndGlyphs">BRIC 14</text>
<text x="168.60" y="292.70" font-size="14.5" textLength="49.4" lengthAdjust="spacingAndGlyphs">anti-Wr</text>
<text x="217.70" y="289.00" font-size="9.4" font-weight="bold">b</text>
<text x="436.80" y="280.50" font-size="14.5" textLength="56" lengthAdjust="spacingAndGlyphs">BRIC 14</text>
<text x="437.10" y="293.60" font-size="14.5" textLength="49.4" lengthAdjust="spacingAndGlyphs">anti-Wr</text>
<text x="486.10" y="290.00" font-size="9.4" font-weight="bold">b</text>
<text transform="translate(10.90,106.50) rotate(-90)" text-anchor="middle" font-size="10.8" class="s">Counts</text>
<text x="136.20" y="236.60" text-anchor="middle" font-size="10.3" class="s" letter-spacing="0.5">FL1</text>
<text transform="translate(279.70,106.70) rotate(-90)" text-anchor="middle" font-size="10.8" class="s">Counts</text>
<text x="405.40" y="236.40" text-anchor="middle" font-size="10.3" class="s" letter-spacing="0.5">FL1</text>
<text transform="translate(10.20,367.60) rotate(-90)" text-anchor="middle" font-size="10.8" class="s">Counts</text>
<text x="136.90" y="499.30" text-anchor="middle" font-size="10.3" class="s" letter-spacing="0.5">FL1</text>
<text transform="translate(280.60,367.90) rotate(-90)" text-anchor="middle" font-size="10.8" class="s">Counts</text>
<text x="405.80" y="497.50" text-anchor="middle" font-size="10.3" class="s" letter-spacing="0.5">FL1</text>
<path d="M21.3 526.2H138.7" stroke="#000" stroke-width="1.6"/>
<path d="M20.8 543.2H138.7" stroke="#000" stroke-width="1.6" stroke-dasharray="1.6 1.6"/>
<text x="144.80" y="531.30" font-size="14.2" textLength="78.2" lengthAdjust="spacingAndGlyphs">= K562/pBp</text>
<text x="144.80" y="548.60" font-size="14.2" textLength="101.9" lengthAdjust="spacingAndGlyphs">= K562/B3SAO</text>
<path d="M290.2 526.2H407.9" stroke="#000" stroke-width="1.6"/>
<path d="M289.7 543.2H407.9" stroke="#000" stroke-width="1.6" stroke-dasharray="1.6 1.6"/>
<text x="413.60" y="531.30" font-size="14.2" textLength="78.2" lengthAdjust="spacingAndGlyphs">= K562/pBp</text>
<text x="413.60" y="548.60" font-size="14.2" textLength="92.0" lengthAdjust="spacingAndGlyphs">= K562/B3EQ</text>
</svg>
</body></html>
